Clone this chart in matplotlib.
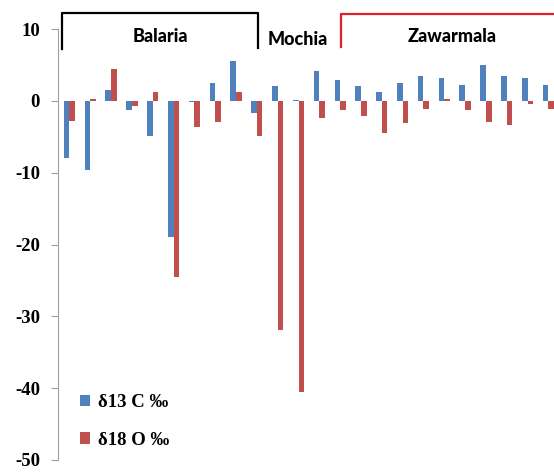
import numpy as np
import matplotlib
matplotlib.use('Agg')
import matplotlib.pyplot as plt

# values (per sample)
d13c = [-8.0, -9.6, 1.5, -1.3, -4.9, -18.9, -0.2, 2.5, 5.6, -1.7,
        2.1, 0.15, 4.1, 2.9, 2.1, 1.2, 2.5, 3.5, 3.2, 2.2,
        5.0, 3.5, 3.2, 2.2]
d18o = [-2.8, 0.2, 4.4, -0.7, 1.2, -24.5, -3.7, -3.0, 1.2, -4.9,
        -31.9, -40.6, -2.4, -1.3, -2.1, -4.5, -3.1, -1.1, 0.3, -1.25,
        -3.0, -3.3, -0.45, -1.2]
y_ticks = [10, 0, -10, -20, -30, -40, -50]

blue = '#4f81bd'
red = '#c0504d'

fig = plt.figure(figsize=(5.54, 4.72), dpi=100)
ax = fig.add_axes([58 / 554, 12 / 472, 1 - 58 / 554, 431 / 472])

x = np.arange(len(d13c))
w = 0.27
ax.bar(x - w / 2, d13c, w, color=blue, label='δ13 C ‰')
ax.bar(x + w / 2, d18o, w, color=red, label='δ18 O ‰')

ax.set_xlim(-0.55, 23.27)
ax.set_ylim(-50, 10)
ax.set_yticks(y_ticks)
ax.set_yticklabels([str(t) for t in y_ticks], fontfamily='Liberation Serif',
                   fontweight='bold', fontsize=13.5)
ax.tick_params(axis='y', length=5, color='#a0a0a0', pad=8)
ax.set_xticks([])
for s in ['top', 'right', 'bottom']:
    ax.spines[s].set_visible(False)
ax.spines['left'].set_color('#a0a0a0')

# site brackets above the bars
kw = dict(lw=1.6, clip_on=False, solid_joinstyle='round')
ax.plot([-0.34, -0.34, 9.04, 9.04], [7.2, 12.25, 12.25, 7.4], color='black', **kw)
ax.plot([13.06, 13.06, 24.5], [7.5, 12.1, 12.1], color='#e0202a', **kw)
tkw = dict(fontsize=13, fontweight='black', fontfamily='Lato',
           ha='center', va='center')
ax.text(4.35, 8.9, 'Balaria', **tkw)
ax.text(10.95, 8.6, 'Mochia', **tkw)
ax.text(18.4, 8.9, 'Zawarmala', **tkw)

ax.legend(loc='lower left', bbox_to_anchor=(0.029, 0.009), frameon=False,
          borderaxespad=0, handlelength=0.55, handleheight=0.55,
          handletextpad=0.4, labelspacing=1.1,
          prop={'family': 'Liberation Serif', 'weight': 'bold', 'size': 13.5})

fig.savefig('out.png', dpi=100)
